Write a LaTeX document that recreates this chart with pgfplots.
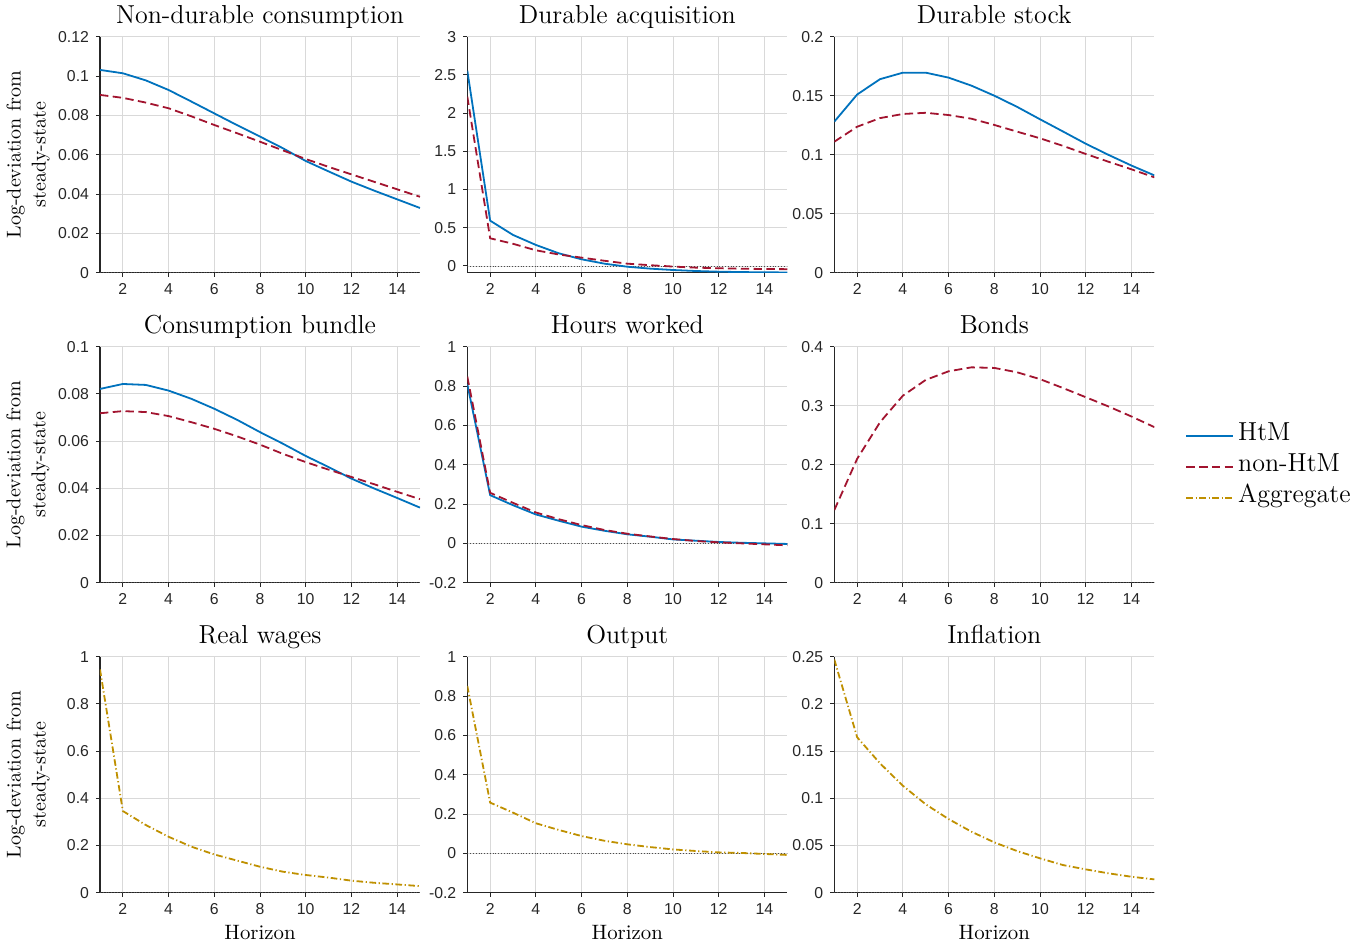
\documentclass[border=0pt]{standalone}
\usepackage{fontspec}
\usepackage{pgfplots}
\pgfplotsset{compat=1.18}
\newfontfamily\arial{Liberation Sans}
\definecolor{htm}{RGB}{0,114,189}
\definecolor{nonhtm}{RGB}{162,20,47}
\definecolor{agg}{RGB}{191,144,0}
\definecolor{axgray}{RGB}{38,38,38}
\pgfplotsset{
 irf/.style={
  scale only axis, width=160pt, height=118pt,
  xmin=1, xmax=15, xtick={2,4,6,8,10,12,14},
  axis x line*=bottom, axis y line*=left,
  axis line style={axgray, line width=0.5pt, -},
  x axis line style={-}, y axis line style={-},
  tick align=outside, major tick length=2pt,
  tick style={axgray, line width=0.5pt},
  grid=major, major grid style={black!15, line width=0.4pt},
  ticklabel style={font=\arial\fontsize{7.9}{9}\selectfont, text=axgray},
  /pgf/number format/assume math mode=true,
  yticklabel style={/pgf/number format/fixed, /pgf/number format/precision=3},
  scaled y ticks=false,
  title style={font=\fontsize{13}{15}\selectfont, at={(axis description cs:0.5,1.0042)}, anchor=base, inner sep=0pt},
  ylabel style={font=\fontsize{10}{12.5}\selectfont, align=center, at={(axis description cs:-0.15625,0.5)}, anchor=south, rotate=0, inner sep=0pt},
  xlabel style={font=\fontsize{10.4}{12}\selectfont, at={(axis description cs:0.5,-0.1992)}, anchor=base, inner sep=0pt},
 },
 htmline/.style={htm, line width=0.9pt},
 nonline/.style={nonhtm, line width=0.9pt, dash pattern=on 4.2pt off 2.2pt},
 aggline/.style={agg, line width=0.9pt, dash pattern=on 3.3pt off 1.3pt on 0.6pt off 1.3pt},
 zeroline/.style={black!70, line width=0.4pt, dash pattern=on 0.4pt off 1pt, forget plot},
}
\begin{document}
\begin{tikzpicture}
\useasboundingbox (0,0) rectangle (684.5pt,473pt);
% Row 1
\begin{axis}[irf, at={(50pt,336.65pt)}, anchor=south west, ymin=0, ymax=0.12,
  ytick={0,0.02,0.04,0.06,0.08,0.1,0.12}, title={Non-durable consumption},
  ylabel={Log-deviation from\\steady-state}]
\addplot[zeroline] coordinates {(1,0) (15,0)};
\addplot[htmline] coordinates {(1,0.1031) (2,0.1014) (3,0.0978) (4,0.0929) (5,0.0870) (6,0.0810) (7,0.0750) (8,0.0692) (9,0.0633) (10,0.0568) (11,0.0515) (12,0.0463) (13,0.0417) (14,0.0373) (15,0.0329)};
\addplot[nonline] coordinates {(1,0.0904) (2,0.0889) (3,0.0865) (4,0.0836) (5,0.0795) (6,0.0751) (7,0.0709) (8,0.0666) (9,0.0622) (10,0.0578) (11,0.0538) (12,0.0500) (13,0.0462) (14,0.0424) (15,0.0386)};
\end{axis}
\begin{axis}[irf, at={(233.65pt,336.65pt)}, anchor=south west, ymin=-0.088, ymax=3,
  ytick={0,0.5,1,1.5,2,2.5,3}, title={Durable acquisition}]
\addplot[zeroline] coordinates {(1,0) (15,0)};
\addplot[htmline] coordinates {(1,2.556) (2,0.593) (3,0.406) (4,0.275) (5,0.166) (6,0.087) (7,0.030) (8,-0.010) (9,-0.035) (10,-0.053) (11,-0.066) (12,-0.075) (13,-0.080) (14,-0.083) (15,-0.085)};
\addplot[nonline] coordinates {(1,2.216) (2,0.362) (3,0.290) (4,0.205) (5,0.150) (6,0.109) (7,0.068) (8,0.030) (9,0.010) (10,-0.008) (11,-0.022) (12,-0.030) (13,-0.036) (14,-0.040) (15,-0.042)};
\end{axis}
\begin{axis}[irf, at={(417.15pt,336.65pt)}, anchor=south west, ymin=0, ymax=0.2,
  ytick={0,0.05,0.1,0.15,0.2}, title={Durable stock}]
\addplot[zeroline] coordinates {(1,0) (15,0)};
\addplot[htmline] coordinates {(1,0.128) (2,0.151) (3,0.164) (4,0.1695) (5,0.1695) (6,0.1653) (7,0.1585) (8,0.150) (9,0.1405) (10,0.130) (11,0.1197) (12,0.1093) (13,0.0998) (14,0.0908) (15,0.0825)};
\addplot[nonline] coordinates {(1,0.111) (2,0.1237) (3,0.131) (4,0.1345) (5,0.1355) (6,0.1336) (7,0.1305) (8,0.1252) (9,0.1195) (10,0.1139) (11,0.1075) (12,0.1006) (13,0.094) (14,0.0876) (15,0.0808)};
\end{axis}
% Row 2
\begin{axis}[irf, at={(50pt,181.65pt)}, anchor=south west, ymin=0, ymax=0.1,
  ytick={0,0.02,0.04,0.06,0.08,0.1}, title={Consumption bundle},
  ylabel={Log-deviation from\\steady-state}]
\addplot[zeroline] coordinates {(1,0) (15,0)};
\addplot[htmline] coordinates {(1,0.0821) (2,0.0842) (3,0.0838) (4,0.0814) (5,0.0779) (6,0.0737) (7,0.0690) (8,0.0638) (9,0.0589) (10,0.0537) (11,0.0490) (12,0.0441) (13,0.0399) (14,0.0359) (15,0.0318)};
\addplot[nonline] coordinates {(1,0.0718) (2,0.0727) (3,0.0723) (4,0.0706) (5,0.0680) (6,0.0652) (7,0.0620) (8,0.0585) (9,0.0546) (10,0.0511) (11,0.0479) (12,0.0448) (13,0.0417) (14,0.0385) (15,0.0354)};
\end{axis}
\begin{axis}[irf, at={(233.65pt,181.65pt)}, anchor=south west, ymin=-0.2, ymax=1,
  ytick={-0.2,0,0.2,0.4,0.6,0.8,1}, title={Hours worked}]
\addplot[zeroline] coordinates {(1,0) (15,0)};
\addplot[htmline] coordinates {(1,0.81) (2,0.245) (3,0.194) (4,0.147) (5,0.115) (6,0.085) (7,0.064) (8,0.046) (9,0.034) (10,0.020) (11,0.0135) (12,0.007) (13,0.003) (14,0.0) (15,-0.003)};
\addplot[nonline] coordinates {(1,0.848) (2,0.257) (3,0.206) (4,0.157) (5,0.123) (6,0.093) (7,0.068) (8,0.049) (9,0.035) (10,0.022) (11,0.012) (12,0.005) (13,0.0) (14,-0.005) (15,-0.010)};
\end{axis}
\begin{axis}[irf, at={(417.15pt,181.65pt)}, anchor=south west, ymin=0, ymax=0.4,
  ytick={0,0.1,0.2,0.3,0.4}, title={Bonds},
  legend style={draw=none, fill=none, at={(axis description cs:1.0959,0.4894)}, anchor=west,
    font=\fontsize{13}{15}\selectfont, inner sep=0pt, row sep=3.75pt, column sep=1pt,
    nodes={inner sep=1pt, text height=0.72em, text depth=0.25em}},
  legend cell align=left,
  legend image code/.code={\draw[#1] (0pt,0pt) -- (23.5pt,0pt);}]
\addplot[zeroline] coordinates {(1,0) (15,0)};
\addplot[nonline, forget plot] coordinates {(1,0.123) (2,0.21) (3,0.272) (4,0.317) (5,0.3437) (6,0.3583) (7,0.365) (8,0.364) (9,0.3566) (10,0.345) (11,0.330) (12,0.3144) (13,0.2986) (14,0.2817) (15,0.2637)};
\addlegendimage{htmline}
\addlegendentry{HtM}
\addlegendimage{nonline}
\addlegendentry{non-HtM}
\addlegendimage{aggline}
\addlegendentry{Aggregate}
\end{axis}
% Row 3
\begin{axis}[irf, at={(50pt,26.65pt)}, anchor=south west, ymin=0, ymax=1,
  ytick={0,0.2,0.4,0.6,0.8,1}, title={Real wages}, xlabel={Horizon},
  ylabel={Log-deviation from\\steady-state}]
\addplot[zeroline] coordinates {(1,0) (15,0)};
\addplot[aggline] coordinates {(1,0.946) (2,0.346) (3,0.287) (4,0.237) (5,0.195) (6,0.162) (7,0.136) (8,0.110) (9,0.089) (10,0.075) (11,0.064) (12,0.051) (13,0.042) (14,0.035) (15,0.028)};
\end{axis}
\begin{axis}[irf, at={(233.65pt,26.65pt)}, anchor=south west, ymin=-0.2, ymax=1,
  ytick={-0.2,0,0.2,0.4,0.6,0.8,1}, title={Output}, xlabel={Horizon}]
\addplot[zeroline] coordinates {(1,0) (15,0)};
\addplot[aggline] coordinates {(1,0.851) (2,0.258) (3,0.207) (4,0.153) (5,0.119) (6,0.088) (7,0.064) (8,0.046) (9,0.032) (10,0.020) (11,0.012) (12,0.005) (13,0.002) (14,-0.003) (15,-0.008)};
\end{axis}
\begin{axis}[irf, at={(417.15pt,26.65pt)}, anchor=south west, ymin=0, ymax=0.25,
  ytick={0,0.05,0.1,0.15,0.2,0.25}, title={Inflation}, xlabel={Horizon}]
\addplot[zeroline] coordinates {(1,0) (15,0)};
\addplot[aggline] coordinates {(1,0.247) (2,0.1646) (3,0.137) (4,0.1133) (5,0.0936) (6,0.078) (7,0.0646) (8,0.0533) (9,0.0441) (10,0.0364) (11,0.0293) (12,0.0247) (13,0.0205) (14,0.0169) (15,0.0141)};
\end{axis}
\end{tikzpicture}
\end{document}
